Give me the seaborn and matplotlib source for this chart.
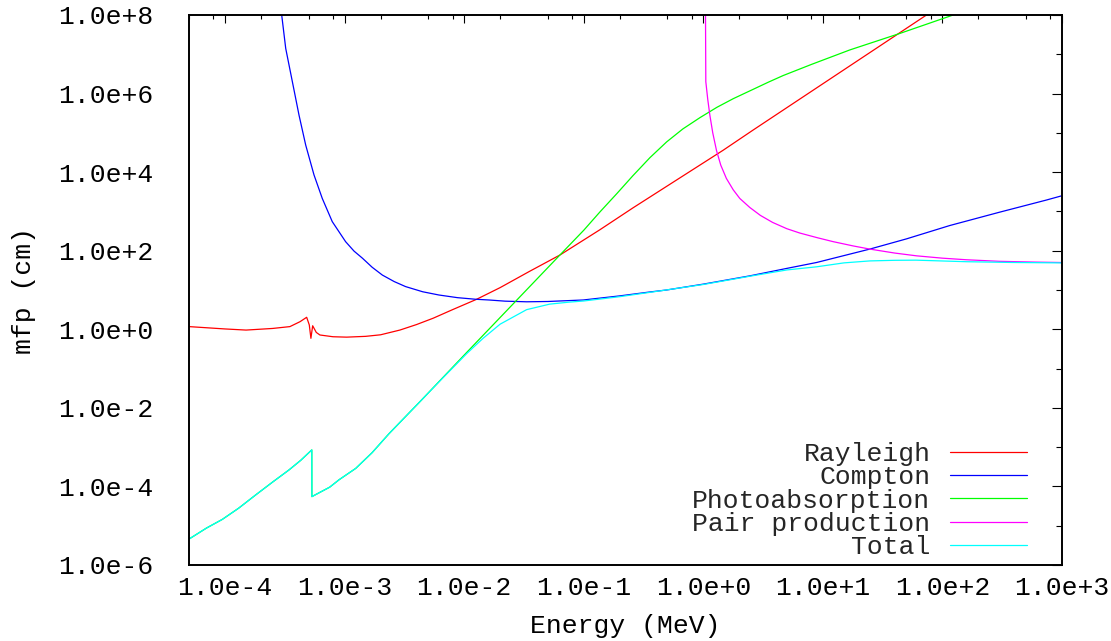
import matplotlib
matplotlib.use("Agg")
import matplotlib.pyplot as plt
from matplotlib.ticker import FixedLocator, FixedFormatter, NullFormatter
import seaborn as sns

# Mean free path (cm) of photons versus energy (MeV), per interaction process
rayleigh_e = [5e-5, 1e-4, 1.5e-4, 2.5e-4, 3.49e-4, 4.24e-4, 4.82e-4, 5.07e-4,
              5.23e-4, 5.41e-4, 5.8e-4, 6.22e-4, 8e-4, 1.04e-3, 1.5e-3, 2e-3,
              2.9e-3, 4e-3, 5.5e-3, 8e-3, 1.27e-2, 2.0e-2, 3.5e-2, 6.32e-2,
              1.36e-1, 2.58e-1, 1.47, 2.6, 73.6, 100]
rayleigh_mfp = [1.17, 1.02, 0.955, 1.05, 1.17, 1.56, 2.02, 1.29,
                0.589, 1.23, 0.832, 0.716, 0.646, 0.631, 0.661, 0.724,
                0.955, 1.32, 1.91, 3.16, 5.79, 11.5, 29.5, 77.6,
                339, 1230, 3.63e4, 1.17e5, 1.0e8, 1.86e8]

compton_e = [2.91e-4, 2.98e-4, 3.22e-4, 3.66e-4, 4.16e-4, 4.73e-4, 5.55e-4,
             6.51e-4, 7.89e-4, 1.02e-3, 1.2e-3, 1.41e-3, 1.7e-3, 2.07e-3,
             2.6e-3, 3.24e-3, 4.5e-3, 6.15e-3, 8.8e-3, 1.25e-2, 1.61e-2,
             2.2e-2, 3.33e-2, 5e-2, 9.9e-2, 0.2, 0.358, 0.493, 1.0, 2.45,
             5.0, 8.85, 24.7, 50, 115, 300, 741, 1000]
compton_mfp = [3.16e8, 1.0e8, 1.41e7, 2.0e6, 2.82e5, 4.9e4, 8.51e3,
               2.14e3, 550, 170, 97.7, 64.6, 38.0, 24.0,
               16.4, 12.2, 9.02, 7.46, 6.38, 5.81, 5.57,
               5.2, 5.01, 5.1, 5.57, 7.08, 8.91, 10.0, 14.1, 22.9,
               35.5, 50.1, 110, 200, 437, 955, 1950, 2510]

photo_e = [5e-5, 7e-5, 9.5e-5, 1.3e-4, 1.8e-4, 2.5e-4, 3.43e-4, 4.3e-4,
           5.32e-4, 5.33e-4, 5.8e-4, 6.5e-4, 7.5e-4, 9e-4, 1.24e-3, 1.7e-3,
           2.35e-3, 4.4e-3, 1.05e-2, 2.75e-2, 6.32e-2, 1.0e-1, 1.36e-1,
           1.9e-1, 2.58e-1, 3.58e-1, 4.94e-1, 6.75e-1, 9.4e-1, 1.30, 1.78,
           2.45, 3.5, 4.66, 8.0, 16.8, 44, 123, 200]
photo_mfp = [4.57e-6, 8.71e-6, 1.45e-5, 2.79e-5, 6.03e-5, 1.29e-4, 2.63e-4, 4.62e-4,
             8.51e-4, 5.5e-5, 6.31e-5, 7.59e-5, 9.55e-5, 1.48e-4, 2.88e-4, 7.24e-4,
             2.19e-3, 1.58e-2, 0.257, 5.5, 77.6, 331, 955,
             2880, 8130, 2.34e4, 5.89e4, 1.26e5, 2.45e5, 4.47e5, 7.41e5,
             1.17e6, 1.95e6, 2.88e6, 5.5e6, 1.29e7, 3.39e7, 1.0e8, 1.66e8]

pair_e = [1.04, 1.05, 1.09, 1.135, 1.2, 1.29, 1.4, 1.56, 1.78, 2.02, 2.45,
          3.0, 3.8, 5.0, 6.41, 9.0, 12.2, 18, 24.7, 40, 60.7, 100, 158,
          300, 600, 1000]
pair_mfp = [1.0e9, 2.0e6, 7.08e5, 2.82e5, 1.0e5, 3.55e4, 1.51e4, 6.92e3, 3.55e3,
            2.14e3, 1.26e3, 794, 525, 363, 282, 214, 170, 132, 110, 87.1,
            74.1, 64.6, 58.9, 53.7, 51.3, 50.1]

total_e = [5e-5, 7e-5, 9.5e-5, 1.3e-4, 1.8e-4, 2.5e-4, 3.43e-4, 4.3e-4,
           5.32e-4, 5.33e-4, 5.8e-4, 6.5e-4, 7.5e-4, 9e-4, 1.24e-3, 1.7e-3,
           2.35e-3, 4.4e-3, 6.57e-3, 1.05e-2, 1.44e-2, 2.0e-2, 3.33e-2,
           5.2e-2, 7.5e-2, 1.0e-1, 2.0e-1, 3.58e-1, 1.0, 2.45, 5.0, 8.85,
           15, 24.7, 40, 60, 158, 400, 1000]
total_mfp = [4.57e-6, 8.71e-6, 1.45e-5, 2.79e-5, 6.03e-5, 1.29e-4, 2.63e-4, 4.62e-4,
             8.51e-4, 5.5e-5, 6.31e-5, 7.59e-5, 9.55e-5, 1.48e-4, 2.88e-4, 7.24e-4,
             2.19e-3, 1.58e-2, 0.0562, 0.24, 0.589, 1.35, 3.16,
             4.37, 4.9, 5.25, 6.76, 8.71, 13.8, 22.4, 32.4, 38.9,
             49.0, 55.0, 57.0, 57.5, 52.5, 50.1, 49.0]

series_names = ["Rayleigh", "Compton", "Photoabsorption", "Pair production", "Total"]
series_colors = ["#ff0000", "#0000ff", "#00ff00", "#ff00ff", "#00ffff"]

x_ticks = [1e-4, 1e-3, 1e-2, 1e-1, 1e0, 1e1, 1e2, 1e3]
x_tick_labels = ["1.0e-4", "1.0e-3", "1.0e-2", "1.0e-1", "1.0e+0", "1.0e+1", "1.0e+2", "1.0e+3"]
x_minor = [5e-5, 8e-5] + [m * 10.0 ** k for k in range(-4, 3) for m in (2, 5, 8)]
y_ticks = [1e-6, 1e-4, 1e-2, 1e0, 1e2, 1e4, 1e6, 1e8]
y_tick_labels = ["1.0e-6", "1.0e-4", "1.0e-2", "1.0e+0", "1.0e+2", "1.0e+4", "1.0e+6", "1.0e+8"]
y_minor = [1e-5, 1e-3, 1e-1, 1e1, 1e3, 1e5, 1e7]

sns.set_style("white")
plt.rcParams["font.family"] = ["Liberation Mono", "DejaVu Sans Mono"]
FS = 19

fig = plt.figure(figsize=(11.11, 6.41), dpi=100)
ax = fig.add_axes([189 / 1111, 1 - 565 / 641, (1062 - 189) / 1111, (565 - 15) / 641])
ax.set_xscale("log")
ax.set_yscale("log")

data = [(rayleigh_e, rayleigh_mfp), (compton_e, compton_mfp), (photo_e, photo_mfp),
        (pair_e, pair_mfp), (total_e, total_mfp)]
for (xe, ym), name, col in zip(data, series_names, series_colors):
    sns.lineplot(x=xe, y=ym, ax=ax, color=col, linewidth=0.9, label=name,
                 estimator=None, sort=False)

ax.set_xlim(5e-5, 1e3)
ax.set_ylim(1e-6, 1e8)

ax.xaxis.set_major_locator(FixedLocator(x_ticks))
ax.xaxis.set_major_formatter(FixedFormatter(x_tick_labels))
ax.xaxis.set_minor_locator(FixedLocator(x_minor))
ax.xaxis.set_minor_formatter(NullFormatter())
ax.yaxis.set_major_locator(FixedLocator(y_ticks))
ax.yaxis.set_major_formatter(FixedFormatter(y_tick_labels))
ax.yaxis.set_minor_locator(FixedLocator(y_minor))
ax.yaxis.set_minor_formatter(NullFormatter())

ax.tick_params(which="both", direction="in", top=True, right=True,
               color="black", width=0.8, labelsize=FS, labelcolor="black")
ax.tick_params(axis="y", which="major", length=7, pad=26)
ax.tick_params(axis="y", which="minor", length=4.3)
ax.tick_params(axis="x", which="major", length=5.8, pad=8)
ax.tick_params(axis="x", which="minor", length=3)
for sp in ax.spines.values():
    sp.set_visible(True)
    sp.set_color("black")
    sp.set_linewidth(1.4)

ax.set_xlabel("Energy (MeV)", fontsize=FS, color="black")
ax.set_ylabel("mfp (cm)", fontsize=FS, color="black")
ax.xaxis.set_label_coords(0.5, -0.09)
ax.yaxis.set_label_coords(-0.175, 0.5)

leg = ax.legend(loc="lower right", bbox_to_anchor=(1027 / 1111, 1 - 559 / 641),
                bbox_transform=fig.transFigure, frameon=False, fontsize=FS,
                markerfirst=False, handlelength=2.9, handletextpad=0.76,
                labelspacing=-0.03, borderpad=0, borderaxespad=0)
for line in leg.get_lines():
    line.set_linewidth(0.9)

fig.savefig("out.png", dpi=100)
